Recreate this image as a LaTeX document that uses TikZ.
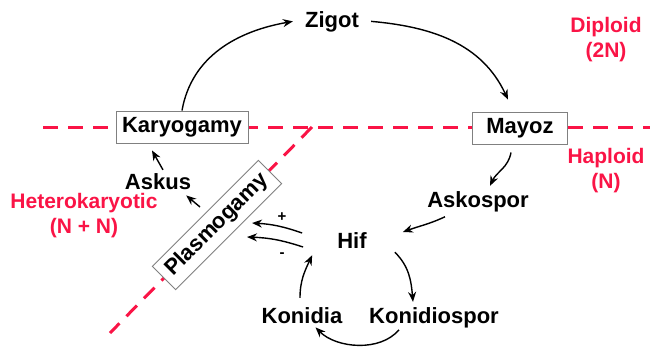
\documentclass[tikz,border=0pt]{standalone}
\usepackage{fontspec}
\setmainfont{Liberation Sans}
\usetikzlibrary{arrows.meta}
\definecolor{hred}{RGB}{250,20,70}
\definecolor{boxgray}{RGB}{128,128,128}
\begin{document}
\begin{tikzpicture}[x=1pt,y=1pt,
 lbl/.style={font=\bfseries\fontsize{22}{25}\selectfont, inner sep=0pt},
 rlbl/.style={font=\bfseries\fontsize{21}{25}\selectfont, text=hred, align=center, inner sep=0pt},
 boxed/.style={font=\bfseries\fontsize{22}{25}\selectfont, draw=boxgray, line width=0.9pt, fill=white, minimum height=32pt, inner sep=0pt},
 arr/.style={-{Stealth[length=10pt,width=8pt]}, line width=1.4pt},
 rdash/.style={draw=hred, line width=3pt, dash pattern=on 15pt off 10pt},
 sign/.style={font=\bfseries\fontsize{15}{15}\selectfont, inner sep=0pt}]
\useasboundingbox (0,0) rectangle (650,-349);
\coordinate (hl) at (43,-127);
\coordinate (hr) at (650,-127);
\coordinate (dl) at (110,-333);
\coordinate (dt) at (312,-127);
\draw[rdash] (hl) -- (hr);
\draw[rdash] (dt) -- (dl);

\node[boxed, minimum width=132pt] (kary) at (182,-127) {Karyogamy};
\node[boxed, minimum width=95pt] (mayoz) at (520,-128) {Mayoz};
\node[boxed, minimum width=150pt, minimum height=33pt, rotate=45] (plasmo) at (217,-225) {Plasmogamy};
\node[lbl, anchor=base] (zigot) at (332,-27) {Zigot};
\node[lbl, anchor=base] (askus) at (158,-189) {Askus};
\node[lbl, anchor=base] (askospor) at (478,-207) {Askospor};
\node[lbl, anchor=base] (hif) at (352,-248) {Hif};
\node[lbl, anchor=base] (konidia) at (302,-323) {Konidia};
\node[lbl, anchor=base] (konidiospor) at (434,-323) {Konidiospor};
\node[rlbl, anchor=base] (diploid) at (606,-57) {Diploid\\(2N)};
\node[rlbl, anchor=base] (haploid) at (606,-188) {Haploid\\(N)};
\node[rlbl, anchor=base] (hetero) at (84,-233) {Heterokaryotic\\(N + N)};
\node[sign] (plus) at (282,-217) {+};
\node[sign] (minus) at (282,-255) {-};

\draw[arr] (kary.north) to[out=80,in=190] ([xshift=-12pt]zigot.west);
\draw[arr] ([xshift=12pt]zigot.east) to[out=-5,in=115] ([xshift=-12pt,yshift=12pt]mayoz.north);
\draw[arr] ([xshift=-9pt,yshift=-8pt]mayoz.south) to[out=-100,in=65] ([xshift=12pt,yshift=5pt]askospor.north);
\draw[arr] ([xshift=-33pt,yshift=-5pt]askospor.south) to[out=205,in=20] ([xshift=36pt,yshift=8pt]hif.east);
\draw[arr] ([xshift=28pt,yshift=-4pt]hif.south east) to[out=-45,in=95] ([xshift=-21pt,yshift=5pt]konidiospor.north);
\draw[arr] ([xshift=-35pt,yshift=-2pt]konidiospor.south) to[out=-130,in=-45,looseness=0.9] ([xshift=-27pt,yshift=-4pt]konidia.south east);
\draw[arr] ([xshift=-2pt,yshift=9pt]konidia.north) to[out=90,in=-115] ([xshift=-25pt,yshift=-7pt]hif.south west);
\draw[arr] ([xshift=-35pt,yshift=7pt]hif.west) to[bend right=8] ([shift={(35pt,2pt)}]plasmo.center);
\draw[arr] ([xshift=-34pt,yshift=-7pt]hif.west) to[bend right=8] ([shift={(30pt,-12pt)}]plasmo.center);
\draw[arr] ([shift={(-17pt,18pt)}]plasmo.center) -- ([shift={(-5pt,-6pt)}]askus.south east);
\draw[arr] ([shift={(5pt,3pt)}]askus.north) -- ([shift={(-30pt,-7pt)}]kary.south);
\end{tikzpicture}
\end{document}
